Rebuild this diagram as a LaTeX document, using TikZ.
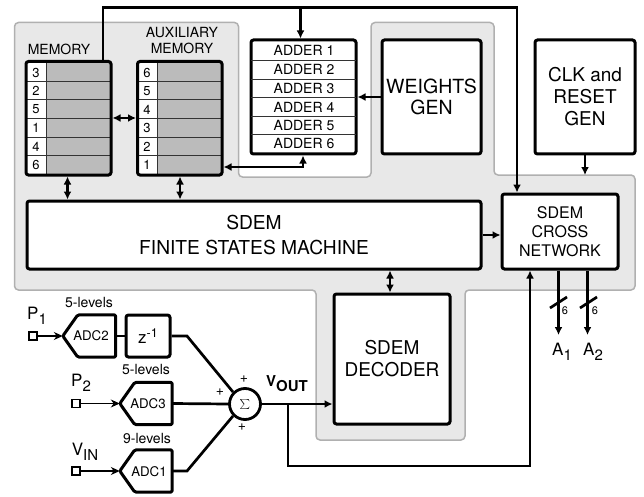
\documentclass[tikz,border=0pt]{standalone}
\usepackage{fontspec}
\setmainfont{TeX Gyre Heros}
\usetikzlibrary{arrows.meta,calc}
\definecolor{regionfill}{HTML}{E8E8E8}
\definecolor{regionline}{HTML}{B0B0B0}
\definecolor{cellgray}{HTML}{BBBBBB}
\newcommand{\fsz}[1]{\fontsize{#1}{#1}\selectfont}
\newcommand{\lowered}[1]{\raisebox{-4.5pt}{#1}}
\tikzset{
  x=1pt,y=-1pt,
  blockbox/.style={draw=black,line width=3pt,rounded corners=2.5pt,fill=white,inner sep=0pt,align=center},
  ghostbox/.style={inner sep=0pt,align=center},
  region/.style={draw=regionline,fill=regionfill,line width=1.5pt,rounded corners=4pt},
  rowline/.style={draw=black!80,line width=1pt},
  conn/.style={draw=black,line width=2.7pt,-{Latex[length=8pt,width=8pt]}},
  biconn/.style={draw=black,line width=2.7pt,{Latex[length=8pt,width=8pt]}-{Latex[length=8pt,width=8pt]}},
  plain/.style={draw=black,line width=2.7pt},
  thinconn/.style={draw=black,line width=1.1pt,-{Stealth[length=9pt,width=8pt]}},
  term/.style={draw=black,line width=1.1pt,fill=white,minimum size=8pt,inner sep=0pt},
  lbl/.style={inner sep=0pt,align=center},
  adderrow/.style={lbl,font=\fsz{14}},
  numrow/.style={lbl,font=\fsz{13}},
  adcshape/.style={draw=black,line width=3pt,line join=round,fill=white},
}
\begin{document}
\begin{tikzpicture}
\useasboundingbox (0,0) rectangle (644,497);
% shaded region
\draw[region] (14.5,22.5) -- (238.5,22.5) -- (238.5,177) -- (371,177) -- (371,22.5) -- (494,22.5) -- (494,175) -- (635,175) -- (635,290) -- (465,290) -- (465,440) -- (316,440) -- (316,290) -- (14.5,290) -- cycle;

% memory
\fill[white,rounded corners=2.5pt] (26,61.5) rectangle (111,175);
\fill[cellgray] (46,61.5) rectangle (111,175);
\fill[white,rounded corners=2.5pt] (137.5,61.5) rectangle (222,175);
\fill[cellgray] (157,61.5) rectangle (222,175);
\foreach \yy in {82,100,119,138,156} {
  \draw[rowline] (26,\yy) -- (111,\yy);
  \draw[rowline] (137.5,\yy) -- (222,\yy);
}
\draw[rowline] (46,61.5) -- (46,175);
\draw[rowline] (157,61.5) -- (157,175);
\node[blockbox,fill=none,minimum width=85pt,minimum height=113.5pt] (mem) at (68.5,118.25) {};
\node[blockbox,fill=none,minimum width=84.5pt,minimum height=113.5pt] (aux) at (179.75,118.25) {};
\foreach \yy/\a/\b [count=\i] in {72.5/3/6,91/2/5,109.5/5/4,128/1/3,147/4/2,165/6/1} {
  \node[numrow] (mn\i) at (36,\yy) {\a};
  \node[numrow] (an\i) at (147,\yy) {\b};
}
\node[lbl,font=\fsz{14}] (memlabel) at (59,49) {MEMORY};
\node[lbl,font=\fsz{14}] (auxlabel) at (182,41) {AUXILIARY\\[2pt]MEMORY};

% adders
\node[blockbox,minimum width=105pt,minimum height=114pt] (adders) at (303.5,97) {};
\foreach \yy in {60.5,79.5,98,117,135} {\draw[rowline] (251,\yy) -- (356,\yy);}
\foreach \yy/\n in {50.5/1,69.5/2,88.5/3,107.5/4,126/5,144/6} {
  \node[adderrow] (add\n) at (304,\yy) {ADDER \n};
}

% large blocks
\node[blockbox,minimum width=99pt,minimum height=114pt,font=\fsz{19.5}] (weights) at (431.5,97) {WEIGHTS\\[2pt]GEN};
\node[blockbox,minimum width=100pt,minimum height=114pt,font=\fsz{19}] (clk) at (585,97) {CLK and\\[3pt]RESET\\[3pt]GEN};
\node[blockbox,minimum width=454pt,minimum height=68pt,font=\fsz{19.2}] (fsm) at (254,235) {SDEM\\[5pt]FINITE STATES MACHINE};
\node[blockbox,minimum width=116pt,minimum height=75pt,font=\fsz{16}] (cross) at (560,231.5) {SDEM\\[3pt]CROSS\\[3pt]NETWORK};
\node[blockbox,minimum width=116pt,minimum height=130pt,font=\fsz{19}] (dec) at (392,359) {SDEM\\[3pt]DECODER};

% ADCs
\coordinate (bendA) at (187,336);
\coordinate (bendB) at (187,471);
\node[ghostbox,minimum width=52.5pt,minimum height=42pt] (adc2) at (89.25,336) {};
\node[ghostbox,minimum width=52pt,minimum height=42pt] (adc3) at (146,403.5) {};
\node[ghostbox,minimum width=52pt,minimum height=42pt] (adc1) at (146,471) {};
\foreach \n in {adc2,adc3,adc1} {
  \draw[adcshape,rounded corners=1.5pt] (\n.west) -- ($(\n.north west)+(15,0)$) -- (\n.north east) -- (\n.south east) -- ($(\n.south west)+(15,0)$) -- cycle;
}
\node[lbl,font=\fsz{13.3}] (adc2t) at (91,336) {ADC2};
\node[lbl,font=\fsz{13.3}] (adc3t) at (148,403.5) {ADC3};
\node[lbl,font=\fsz{13.3}] (adc1t) at (149,472) {ADC1};
\node[blockbox,minimum width=44pt,minimum height=42pt,font=\fsz{17}] (zd) at (148,336) {z\raisebox{6pt}{\fsz{12.5}-1}};
\node[draw=black,line width=2.8pt,fill=white,circle,minimum size=31pt,inner sep=0pt] (sum) at (245,404) {\fsz{19}$\sum$};

% level labels
\node[lbl,font=\fsz{14}] (lv2) at (89,302) {5-levels};
\node[lbl,font=\fsz{14}] (lv3) at (146,369) {5-levels};
\node[lbl,font=\fsz{14}] (lv1) at (147,438) {9-levels};

% inputs
\node[term] (p1) at (33,336) {};
\node[term] (p2) at (76,403.5) {};
\node[term] (vin) at (76,471) {};
\node[lbl,font=\fsz{17}] (p1l) at (37,316) {P\lowered{\fsz{15}1}};
\node[lbl,font=\fsz{17}] (p2l) at (81,383) {P\lowered{\fsz{15}2}};
\node[lbl,font=\fsz{17}] (vinl) at (85,452) {V\lowered{\fsz{15}IN}};
\draw[thinconn] (p1) -- (adc2.west);
\draw[thinconn] (p2) -- (adc3.west);
\draw[thinconn] (vin) -- (adc1.west);

% plus signs and output label
\node[lbl,font=\fsz{14}] (pa) at (244,379) {+};
\node[lbl,font=\fsz{14}] (pb) at (220,392) {+};
\node[lbl,font=\fsz{14}] (pc) at (242,427) {+};
\node[lbl,font=\bfseries\fsz{15}] (voutl) at (287,384) {\raisebox{2.5pt}{V}\raisebox{-2.5pt}{OUT}};

% connectors
\draw[plain] (adc2.east) -- (zd.west);
\draw[plain] (zd.east) -- (bendA) -- (sum.135);
\draw[plain] (adc3.east) -- (sum.west);
\draw[plain] (adc1.east) -- (bendB) -- (sum.225);
\draw[conn] (sum.east) -- (dec.west |- sum.east);
\coordinate (vbranch) at (288,404);
\coordinate (vbot) at (288,466);
\coordinate (vcorner) at (530,466);
\draw[conn,line width=2.3pt] (vbranch) -- (vbot) -- (vcorner) -- (vcorner |- cross.south);

\coordinate (toptap) at (103,7.5);
\coordinate (topright) at (517,7.5);
\draw[conn,line width=2.3pt] (toptap |- mem.north) -- (toptap) -- (topright) -- (topright |- cross.north);
\coordinate (addtap) at (300.5,7.5);
\draw[conn] (addtap) -- (addtap |- adders.north);

\draw[biconn] (mem.east |- 0,118) -- (aux.west |- 0,118);
\draw[biconn] (mem.south -| 67.5,0) -- (fsm.north -| 67.5,0);
\draw[biconn] (aux.south -| 180,0) -- (fsm.north -| 180,0);
\coordinate (addlow) at (303,167);
\draw[biconn,line width=2.3pt] (aux.east |- addlow) -- (addlow) -- (addlow |- adders.south);
\draw[conn] (weights.west) -- (adders.east |- weights.west);
\coordinate (clkend) at (clk.south |- 0,175);
\draw[conn] (clk.south) -- (clkend);
\draw[conn] (fsm.east) -- (cross.west |- fsm.east);
\draw[biconn] (dec.north -| 390,0) -- (fsm.south -| 390,0);

% outputs
\coordinate (a1end) at (558.5,335);
\coordinate (a2end) at (587.5,335);
\draw[conn] (a1end |- cross.south) -- (a1end);
\draw[conn] (a2end |- cross.south) -- (a2end);
\coordinate (s1a) at (550,308); \coordinate (s1b) at (567,297);
\coordinate (s2a) at (580,308); \coordinate (s2b) at (597,297);
\draw[plain] (s1a) -- (s1b);
\draw[plain] (s2a) -- (s2b);
\node[lbl,font=\fsz{11}] (six1) at (565,311) {6};
\node[lbl,font=\fsz{11}] (six2) at (595,311) {6};
\node[lbl,font=\fsz{17}] (a1l) at (562,352) {A\lowered{\fsz{15}1}};
\node[lbl,font=\fsz{17}] (a2l) at (593,352) {A\lowered{\fsz{15}2}};
\end{tikzpicture}
\end{document}
